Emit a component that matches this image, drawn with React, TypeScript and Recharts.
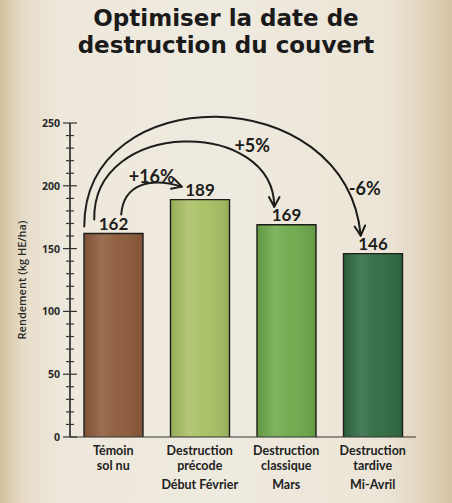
import React from 'react';
import { BarChart, Bar, XAxis, YAxis, Cell, LabelList, ReferenceLine, Label } from 'recharts';

const categories = ['Témoin sol nu', 'Destruction précode', 'Destruction classique', 'Destruction tardive'];
const periods = ['', 'Début Février', 'Mars', 'Mi-Avril'];
const rendement = [162, 189, 169, 146];
const barColors = ['#8d5b3b', '#a9c063', '#6eaa4c', '#2f6b42'];
const gains = ['+16%', '+5%', '-6%'];
const yTicks = [0, 10, 20, 30, 40, 50, 60, 70, 80, 90, 100, 110, 120, 130, 140, 150, 160, 170, 180, 190, 200, 210, 220, 230, 240, 250];

const data = categories.map((name, i) => ({ name, value: rendement[i] }));

const INK = '#1d1d1b';
const LABEL_FONT = '"Open Sans", sans-serif';
const TICK_FONT = 'Lato, sans-serif';
const HAND_FONT = 'Lato, sans-serif';
const TITLE_FONT = '"DejaVu Sans", sans-serif';

// arrow geometry, offsets in px from the bar-top points given by the scales
const arrowSpecs = [
  { s: [8, -19], e: [-18, -13], c1: [2, -30], c2: [-32, -10], label: [-48, -24] },
  { s: [-19, -14], e: [-12, -18], c1: [-2, -102], c2: [0, -89], label: [-34, -80] },
  { s: [-29, -7], e: [-12, -18], c1: [0, -148], c2: [-15, -157], label: [-8, -66] },
];

function Arrow(props: any) {
  const { x1, y1, x2, y2, spec, text } = props;
  if (x1 == null || x2 == null) return null;
  const sx = x1 + spec.s[0];
  const sy = y1 + spec.s[1];
  const ex = x2 + spec.e[0];
  const ey = y2 + spec.e[1];
  const c1x = sx + spec.c1[0];
  const c1y = sy + spec.c1[1];
  const c2x = ex + spec.c2[0];
  const c2y = ey + spec.c2[1];
  const ang = Math.atan2(ey - c2y, ex - c2x);
  const len = 11;
  const spread = 0.5;
  const h1x = ex - len * Math.cos(ang - spread);
  const h1y = ey - len * Math.sin(ang - spread);
  const h2x = ex - len * Math.cos(ang + spread);
  const h2y = ey - len * Math.sin(ang + spread);
  return (
    <g>
      <path
        d={`M${sx},${sy} C${c1x},${c1y} ${c2x},${c2y} ${ex},${ey}`}
        fill="none"
        stroke={INK}
        strokeWidth={2}
        strokeLinecap="round"
      />
      <path
        d={`M${h1x},${h1y} L${ex},${ey} L${h2x},${h2y}`}
        fill="none"
        stroke={INK}
        strokeWidth={2}
        strokeLinecap="round"
        strokeLinejoin="round"
      />
      <text
        x={x2 + spec.label[0]}
        y={y2 + spec.label[1]}
        textAnchor="middle"
        dominantBaseline="central"
        fontFamily={HAND_FONT}
        fontSize={18}
        fontWeight={700}
        fill={INK}
      >
        {text}
      </text>
    </g>
  );
}

function WashBar(props: any) {
  const { x, y, width, height, fill } = props;
  return (
    <g>
      <rect x={x} y={y} width={width} height={height} fill={fill} />
      <rect x={x} y={y} width={width} height={height} fill="url(#wash)" />
      <path
        d={`M${x},${y + height} L${x},${y} L${x + width},${y} L${x + width},${y + height}`}
        fill="none"
        stroke={INK}
        strokeWidth={1.4}
      />
    </g>
  );
}

function YTick(props: any) {
  const { x, y, payload } = props;
  const major = payload.value % 50 === 0;
  return (
    <g>
      <line x1={major ? x - 7 : x - 4} x2={major ? x + 7 : x + 4} y1={y} y2={y} stroke="#333" strokeWidth={1.2} />
      {major && (
        <text x={x - 10} y={y} textAnchor="end" dominantBaseline="central" fontFamily={LABEL_FONT} fontWeight={700} fontSize={10.5} fill="#2a2a2a">
          {payload.value}
        </text>
      )}
    </g>
  );
}

function XTick(props: any) {
  const { x, y, payload, index } = props;
  const name: string = payload.value;
  const cut = name.indexOf(' ');
  return (
    <g fontFamily={TICK_FONT} fontWeight={700} fontSize={12.5} fill="#222" textAnchor="middle">
      <text x={x} y={y + 18}>{name.slice(0, cut)}</text>
      <text x={x} y={y + 33}>{name.slice(cut + 1)}</text>
      <text x={x} y={y + 52}>{periods[index]}</text>
    </g>
  );
}

export default function App() {
  return (
    <div
      style={{
        position: 'absolute',
        left: 0,
        top: 0,
        width: 452,
        height: 503,
        overflow: 'hidden',
        background:
          'linear-gradient(to right, #d3c09c 0%, #e6dcc8 5%, #eee8dc 14%, #efeadf 50%, #ece5d7 85%, #e2d6bf 93%, #d6c4a2 100%)',
      }}
    >
      <svg width={0} height={0} style={{ position: 'absolute' }}>
        <defs>
          <linearGradient id="wash" x1="0" y1="0" x2="1" y2="0">
            <stop offset="0%" stopColor="#000" stopOpacity={0.1} />
            <stop offset="30%" stopColor="#fff" stopOpacity={0.12} />
            <stop offset="55%" stopColor="#fff" stopOpacity={0.04} />
            <stop offset="100%" stopColor="#000" stopOpacity={0.1} />
          </linearGradient>
        </defs>
      </svg>
      <div
        style={{
          position: 'absolute',
          top: 5,
          left: 0,
          width: 452,
          textAlign: 'center',
          fontFamily: TITLE_FONT,
          fontWeight: 700,
          fontSize: 23,
          lineHeight: '27px',
          color: '#1a1a1a',
        }}
      >
        Optimiser la date de
        <br />
        destruction du couvert
      </div>
      <div style={{ position: 'absolute', left: 0, top: 0 }}>
        <BarChart width={452} height={503} data={data} margin={{ top: 123, right: 36, bottom: 0, left: 0 }} barCategoryGap={0}>
          <XAxis
            dataKey="name"
            height={66}
            interval={0}
            tickLine={false}
            tickSize={0}
            tickMargin={0}
            axisLine={{ stroke: '#333', strokeWidth: 1.2 }}
            tick={<XTick />}
          />
          <YAxis
            width={70}
            domain={[0, 250]}
            ticks={yTicks}
            interval={0}
            tickLine={false}
            tickSize={0}
            tickMargin={0}
            axisLine={{ stroke: '#222', strokeWidth: 1.6 }}
            tick={<YTick />}
          >
            <Label
              value="Rendement (kg HE/ha)"
              angle={-90}
              position="insideLeft"
              offset={22}
              style={{ textAnchor: 'middle', fontFamily: LABEL_FONT, fontSize: 11, fontWeight: 600, fill: '#2a2a2a' }}
            />
          </YAxis>
          <Bar dataKey="value" barSize={59} shape={<WashBar />} isAnimationActive={false}>
            {data.map((d, i) => (
              <Cell key={d.name} fill={barColors[i]} />
            ))}
            <LabelList
              dataKey="value"
              position="top"
              offset={4}
              style={{ fill: INK, fontFamily: HAND_FONT, fontSize: 17, fontWeight: 700 }}
            />
          </Bar>
          {gains.map((g, k) => (
            <ReferenceLine
              key={g}
              segment={[
                { x: categories[0], y: rendement[0] },
                { x: categories[k + 1], y: rendement[k + 1] },
              ]}
              ifOverflow="visible"
              shape={(p: any) => <Arrow {...p} spec={arrowSpecs[k]} text={g} />}
            />
          ))}
        </BarChart>
      </div>
    </div>
  );
}
